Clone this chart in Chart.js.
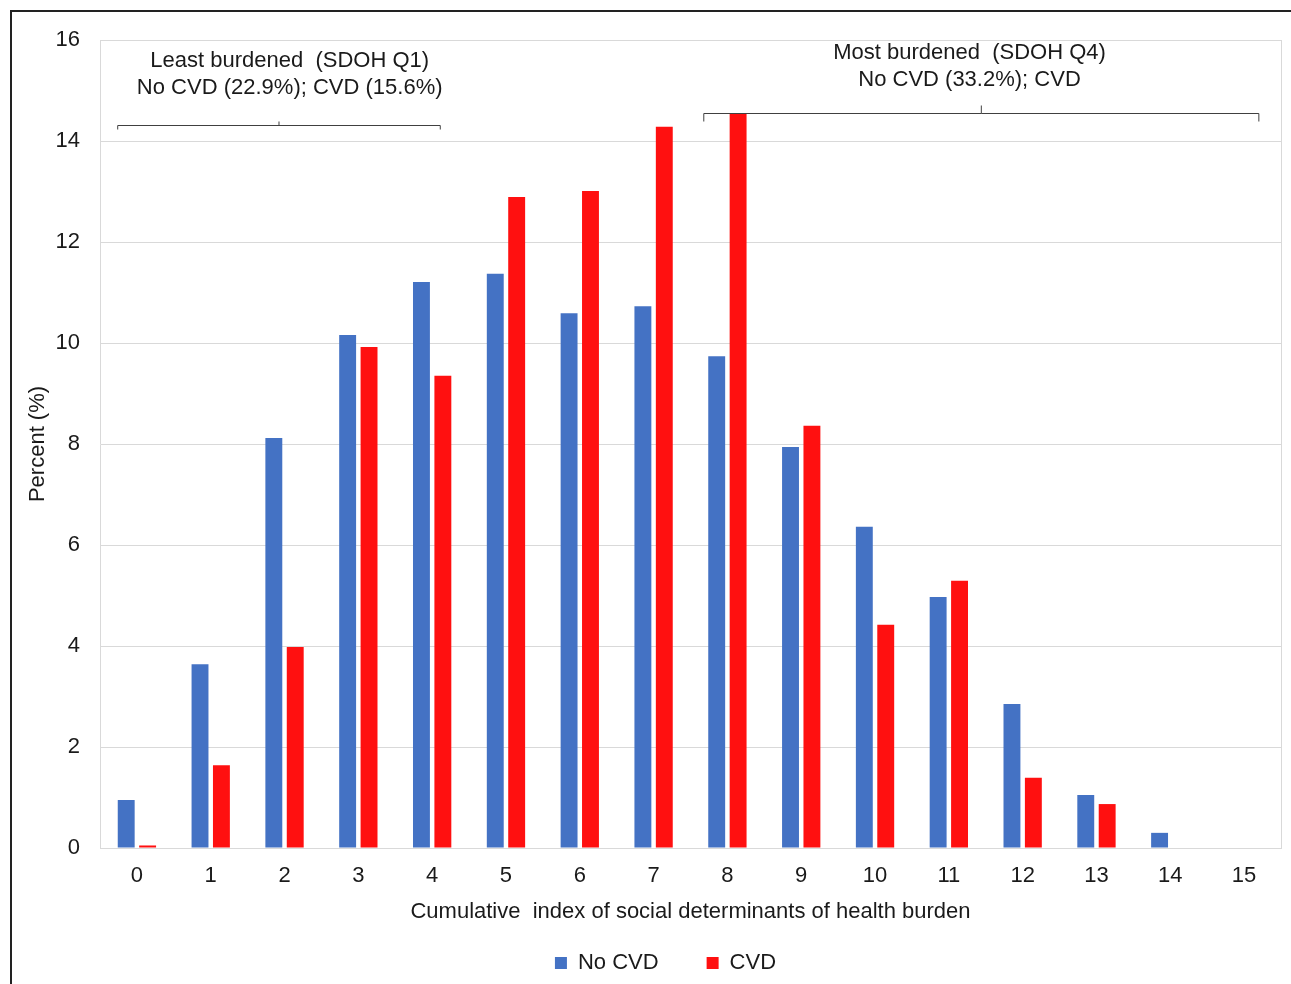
<!DOCTYPE html>
<html>
<head>
<meta charset="utf-8">
<script src="https://cdn.jsdelivr.net/npm/chart.js@4.4.1/dist/chart.umd.min.js"></script>
<style>
  html, body { margin: 0; padding: 0; background: #fff; overflow: hidden; }
  #wrap { position: absolute; left: 0; top: 0; width: 1291px; height: 984px; }
</style>
</head>
<body>
<div id="wrap"><canvas id="sdohChart"></canvas></div>
<script>
// categories and values
const sdohIndex = ['0', '1', '2', '3', '4', '5', '6', '7', '8', '9', '10', '11', '12', '13', '14', '15'];
const noCvd = [0.95, 3.64, 8.12, 10.16, 11.21, 11.37, 10.59, 10.73, 9.74, 7.94, 6.36, 4.97, 2.85, 1.05, 0.30, 0];
const cvd = [0.05, 1.64, 3.98, 9.92, 9.35, 12.89, 13.01, 14.28, 14.55, 8.36, 4.42, 5.29, 1.39, 0.87, 0, 0];
const yTicks = [0, 2, 4, 6, 8, 10, 12, 14, 16];

// quartile brackets (in category / value units)
const bracketText = [
    ['Least burdened  (SDOH Q1)', 'No CVD (22.9%); CVD (15.6%)'],
    ['Most burdened  (SDOH Q4)', 'No CVD (33.2%); CVD']
];
const bracketFrom = [-0.26, 7.68];
const bracketTo = [4.11, 15.2];
const bracketLevel = [14.32, 14.55];
const bracketTextAt = [2.07, 11.28];

const FONT = "'Liberation Sans', Arial, sans-serif";
const TEXT = '#1a1a1a';
const GRID = '#d9d9d9';

const frameAndBrackets = {
    id: 'frameAndBrackets',
    beforeDraw(chart) {
        const ctx = chart.ctx;
        ctx.save();
        ctx.strokeStyle = '#222';
        ctx.lineWidth = 2;
        ctx.beginPath();
        ctx.moveTo(11, chart.height);
        ctx.lineTo(11, 11);
        ctx.lineTo(chart.width, 11);
        ctx.stroke();
        ctx.restore();
    },
    afterDraw(chart) {
        const ctx = chart.ctx;
        const x = chart.scales.x, y = chart.scales.y;
        const area = chart.chartArea;
        ctx.save();
        // right edge of plot area
        ctx.strokeStyle = GRID;
        ctx.lineWidth = 1;
        ctx.beginPath();
        ctx.moveTo(area.right + 0.5, area.top);
        ctx.lineTo(area.right + 0.5, area.bottom);
        ctx.stroke();

        ctx.strokeStyle = '#404040';
        ctx.fillStyle = TEXT;
        ctx.font = '22px ' + FONT;
        ctx.textAlign = 'center';
        ctx.textBaseline = 'middle';
        bracketText.forEach((lines, i) => {
            const x0 = x.getPixelForValue(bracketFrom[i]);
            const x1 = x.getPixelForValue(bracketTo[i]);
            const by = Math.round(y.getPixelForValue(bracketLevel[i])) + 0.5;
            const mid = (x0 + x1) / 2;
            const d = i === 0 ? 4 : 8;
            ctx.beginPath();
            ctx.moveTo(x0, by + d);
            ctx.lineTo(x0, by);
            ctx.lineTo(x1, by);
            ctx.lineTo(x1, by + d);
            ctx.moveTo(mid, by);
            ctx.lineTo(mid, by - d);
            ctx.stroke();
            const tx = x.getPixelForValue(bracketTextAt[i]);
            const gap = i === 0 ? 65 : 61;
            ctx.fillText(lines[0], tx, by - gap);
            ctx.fillText(lines[1], tx, by - gap + 27);
        });
        ctx.restore();
    }
};

const config = {
    type: 'bar',
    data: {
        labels: sdohIndex,
        datasets: [
            { label: 'No CVD', data: noCvd, backgroundColor: '#4472C4' },
            { label: 'CVD', data: cvd, backgroundColor: '#FF1010' }
        ]
    },
    options: {
        responsive: true,
        maintainAspectRatio: false,
        animation: false,
        categoryPercentage: 0.58,
        barPercentage: 0.79,
        layout: { padding: { left: 50, right: 10, top: 40, bottom: 0 } },
        plugins: {
            tooltip: { enabled: false },
            legend: {
                position: 'bottom',
                labels: {
                    color: TEXT,
                    font: { family: FONT, size: 22 },
                    boxWidth: 12,
                    boxHeight: 12,
                    padding: 48
                }
            }
        },
        scales: {
            x: {
                grid: { display: false },
                border: { color: GRID },
                ticks: { color: TEXT, font: { family: FONT, size: 22 }, padding: 7 },
                title: {
                    display: true,
                    text: 'Cumulative  index of social determinants of health burden',
                    color: TEXT,
                    font: { family: FONT, size: 22 },
                    padding: { top: 0, bottom: -21 }
                },
                afterFit(scale) { scale.height = 56; }
            },
            y: {
                min: 0,
                max: 16,
                afterBuildTicks(scale) { scale.ticks = yTicks.map(v => ({ value: v })); },
                grid: { color: GRID, drawTicks: false },
                border: { color: GRID },
                ticks: { color: TEXT, font: { family: FONT, size: 22 }, padding: 20 },
                title: {
                    display: true,
                    text: 'Percent (%)',
                    color: TEXT,
                    font: { family: FONT, size: 22 },
                    padding: { top: -25, bottom: 0 }
                },
                afterFit(scale) { scale.width = 50; }
            }
        }
    },
    plugins: [frameAndBrackets]
};

new Chart(document.getElementById('sdohChart'), config);
</script>
</body>
</html>
